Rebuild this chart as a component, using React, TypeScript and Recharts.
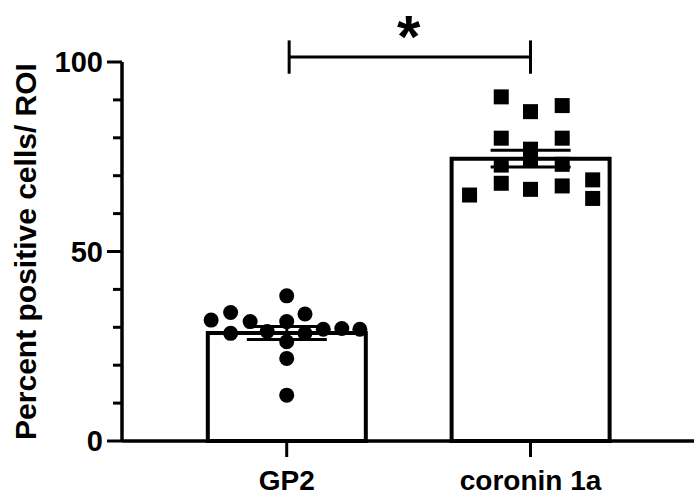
import React from 'react';
import {
  ComposedChart,
  Bar,
  Scatter,
  XAxis,
  YAxis,
  ErrorBar,
  ReferenceLine,
  ReferenceDot,
} from 'recharts';

const FONT = '"Liberation Sans", Arial, sans-serif';

// groups and bar summaries (mean +/- SEM)
const categories = ['GP2', 'coronin 1a'];
const categoryX = [1, 2];
const means = [28.5, 74.5];
const sems = [1.7, 2.2];

// individual ROIs, x is the group position plus the swarm offset
const gp2X = [0.69, 0.77, 0.77, 0.85, 0.92, 1, 1, 1, 1, 1, 1.075, 1.075, 1.15, 1.226, 1.3];
const gp2Y = [31.9, 33.9, 28.4, 31.5, 28.9, 38.3, 31.5, 26.2, 21.8, 12.1, 33.5, 28.4, 29.5, 29.7, 29.5];

const coroninX = [1.75, 1.88, 1.88, 1.88, 1.88, 2, 2, 2, 2, 2.13, 2.13, 2.13, 2.13, 2.255, 2.255];
const coroninY = [64.9, 90.8, 79.9, 72.8, 68.0, 86.9, 77.0, 74.0, 66.4, 88.5, 79.9, 73.0, 67.3, 68.9, 64.0];

const yTicks = [0, 10, 20, 30, 40, 50, 60, 70, 80, 90, 100];
const xDomain = [0.3244, 2.6706];

// significance bracket between the two groups
const bracketX = [1.01, 2.0];
const bracketY = 101.3;
const bracketHalf = 4.4;
const starY = 109;

const barData = categories.map((c, i) => ({ name: c, x: categoryX[i], mean: means[i], sem: sems[i] }));
const gp2Points = gp2X.map((x, i) => ({ x, y: gp2Y[i] }));
const coroninPoints = coroninX.map((x, i) => ({ x, y: coroninY[i] }));

function YTick(props: any) {
  const { x, y, payload } = props;
  const major = payload.value % 50 === 0;
  return (
    <g>
      <line x1={x - (major ? 15 : 9)} x2={x} y1={y} y2={y} stroke="#000" strokeWidth={3} />
      {major && (
        <text
          x={x - 19}
          y={y}
          textAnchor="end"
          dominantBaseline="central"
          fontSize={29}
          fontWeight="bold"
          fontFamily={FONT}
          fill="#000"
        >
          {payload.value}
        </text>
      )}
    </g>
  );
}

function YLabel(props: any) {
  const { viewBox } = props;
  const cx = viewBox.x + 36;
  const cy = viewBox.y + viewBox.height / 2;
  return (
    <text
      x={cx}
      y={cy}
      transform={`rotate(-90, ${cx}, ${cy})`}
      textAnchor="middle"
      fontSize={30}
      fontWeight="bold"
      fontFamily={FONT}
      fill="#000"
    >
      Percent positive cells/ ROI
    </text>
  );
}

const circleShape = (p: any) => <circle cx={p.cx} cy={p.cy} r={7.5} fill="#000" />;
const squareShape = (p: any) => <rect x={p.cx - 7.5} y={p.cy - 7.5} width={15} height={15} fill="#000" />;
const starShape = (p: any) => (
  <text x={p.cx} y={p.cy + 29} textAnchor="middle" fontSize={60} fontWeight="bold" fontFamily={FONT} fill="#000">
    *
  </text>
);

export default function App() {
  return (
    <div style={{ position: 'absolute', left: 0, top: 0, background: '#fff' }}>
      <ComposedChart width={694} height={495} data={barData} margin={{ top: 62, right: 0, bottom: 0, left: 0 }}>
        <XAxis
          dataKey="x"
          type="number"
          domain={xDomain}
          allowDataOverflow
          ticks={categoryX}
          interval={0}
          tickFormatter={(v: number) => categories[categoryX.indexOf(v)]}
          height={54}
          tickSize={16}
          tickMargin={13}
          axisLine={{ stroke: '#000', strokeWidth: 3.5 }}
          tickLine={{ stroke: '#000', strokeWidth: 3 }}
          tick={{ fontSize: 28, fontWeight: 'bold', fill: '#000', fontFamily: FONT }}
        />
        <XAxis xAxisId="pts" dataKey="x" type="number" domain={xDomain} allowDataOverflow hide />
        <YAxis
          type="number"
          domain={[0, 100]}
          ticks={yTicks}
          interval={0}
          width={122}
          tickLine={false}
          tickSize={0}
          tickMargin={0}
          tick={<YTick />}
          axisLine={{ stroke: '#000', strokeWidth: 3.5 }}
          label={<YLabel />}
        />
        <Bar dataKey="mean" barSize={158} fill="#fff" stroke="#000" strokeWidth={4} isAnimationActive={false}>
          <ErrorBar dataKey="sem" width={40} stroke="#000" strokeWidth={3} direction="y" />
        </Bar>
        <Scatter xAxisId="pts" data={gp2Points} dataKey="y" shape={circleShape} isAnimationActive={false} />
        <Scatter xAxisId="pts" data={coroninPoints} dataKey="y" shape={squareShape} isAnimationActive={false} />
        <ReferenceLine
          segment={[{ x: bracketX[0], y: bracketY }, { x: bracketX[1], y: bracketY }]}
          stroke="#000"
          strokeWidth={3}
          ifOverflow="visible"
        />
        <ReferenceLine
          segment={[{ x: bracketX[0], y: bracketY - bracketHalf }, { x: bracketX[0], y: bracketY + bracketHalf }]}
          stroke="#000"
          strokeWidth={3}
          ifOverflow="visible"
        />
        <ReferenceLine
          segment={[{ x: bracketX[1], y: bracketY - bracketHalf }, { x: bracketX[1], y: bracketY + bracketHalf }]}
          stroke="#000"
          strokeWidth={3}
          ifOverflow="visible"
        />
        <ReferenceDot x={1.5} y={starY} r={0} ifOverflow="visible" shape={starShape} />
      </ComposedChart>
    </div>
  );
}
